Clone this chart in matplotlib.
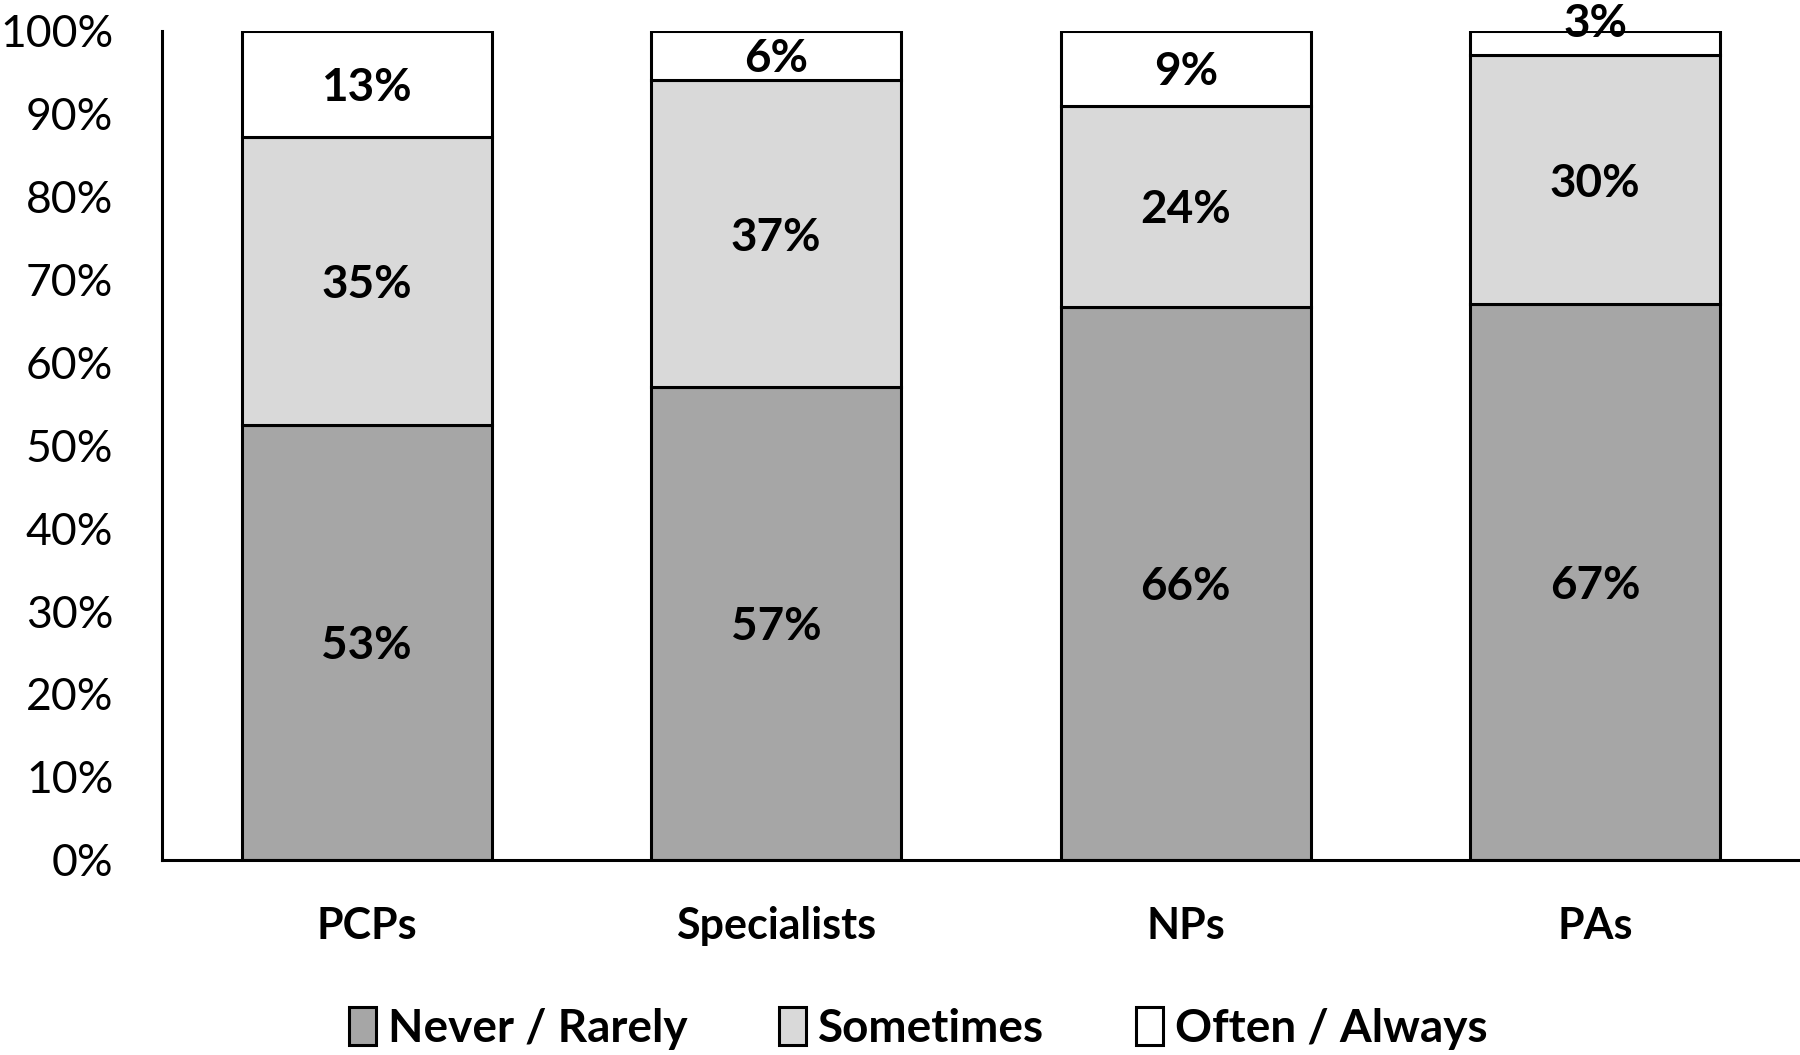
import numpy as np
import matplotlib.pyplot as plt

plt.rcParams['font.family'] = ['Lato', 'DejaVu Sans']

groups = ['PCPs', 'Specialists', 'NPs', 'PAs']
series = ['Never / Rarely', 'Sometimes', 'Often / Always']
never = [53, 57, 66, 67]
sometimes = [35, 37, 24, 30]
often = [13, 6, 9, 3]
colors = ['#a6a6a6', '#d9d9d9', '#ffffff']

vals = np.array([never, sometimes, often], dtype=float)
shares = vals / vals.sum(axis=0) * 100  # bars are scaled to 100%

fig = plt.figure(figsize=(18, 10.55), dpi=100)
ax = fig.add_axes([0.09, 0.185, 0.91, 0.786])

x = np.arange(len(groups))
bottom = np.zeros(len(groups))
for i in range(3):
    ax.bar(x, shares[i], 0.61, bottom=bottom, color=colors[i],
           edgecolor='black', linewidth=2.2, label=series[i], zorder=2)
    for j in range(len(groups)):
        yc = bottom[j] + shares[i][j] / 2
        if shares[i][j] < 5:
            yc = 101.3
        ax.text(x[j], yc, f'{int(vals[i][j])}%', ha='center', va='center_baseline',
                fontsize=33, fontweight='bold', clip_on=False)
    bottom += shares[i]

ax.set_xlim(-0.5, 3.5)
ax.set_ylim(0, 100)
ax.set_yticks(np.arange(0, 101, 10))
ax.set_yticklabels([f'{v}%' for v in range(0, 101, 10)], fontsize=32)
ax.set_xticks(x)
ax.set_xticklabels(groups, fontsize=31, fontweight='bold')
ax.tick_params(axis='both', length=0)
ax.tick_params(axis='y', pad=35)
ax.tick_params(axis='x', pad=33)
ax.spines['top'].set_visible(False)
ax.spines['right'].set_visible(False)
ax.spines['left'].set_linewidth(2.2)
ax.spines['bottom'].set_linewidth(2.2)

fig.legend(loc='center', bbox_to_anchor=(0.51, 0.025), ncol=3, frameon=False,
           prop={'size': 33, 'weight': 'bold'}, handlelength=0.6,
           handleheight=0.9, handletextpad=0.25, columnspacing=2.0)

fig.savefig('out.png', dpi=100)
